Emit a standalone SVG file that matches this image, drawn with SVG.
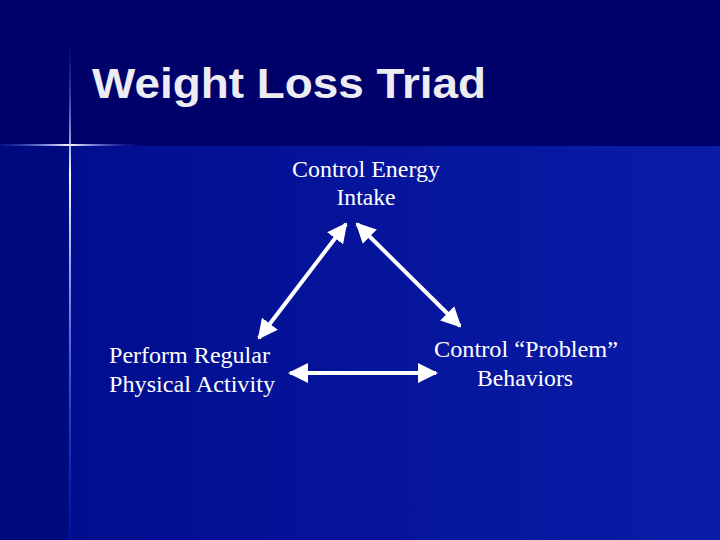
<svg xmlns="http://www.w3.org/2000/svg" width="720" height="540" viewBox="0 0 720 540">
<style>
.title{font-family:"Liberation Sans",Arial,sans-serif;font-weight:bold;font-size:42px;fill:#ececf2}
.lbl{font-family:"Liberation Serif","Times New Roman",serif;font-size:24px;fill:#ffffff}
.arr{stroke:#ffffff;stroke-width:4;fill:none;marker-start:url(#ah);marker-end:url(#ah)}
</style>
<defs>
<linearGradient id="bgLow" x1="0" y1="0" x2="1" y2="0">
<stop offset="0" stop-color="#000c8c"/>
<stop offset="1" stop-color="#0a1ca8"/>
</linearGradient>
<linearGradient id="hline" x1="0" y1="0" x2="1" y2="0">
<stop offset="0" stop-color="#3050ff" stop-opacity="0.2"/>
<stop offset="0.5" stop-color="#ffffff"/>
<stop offset="1" stop-color="#3050ff" stop-opacity="0"/>
</linearGradient>
<linearGradient id="vline" x1="0" y1="0" x2="0" y2="1">
<stop offset="0" stop-color="#3050ff" stop-opacity="0"/>
<stop offset="0.27" stop-color="#ffffff"/>
<stop offset="1" stop-color="#2040ff" stop-opacity="0.1"/>
</linearGradient>
<marker id="ah" viewBox="0 0 10 10" refX="9" refY="5" markerWidth="5" markerHeight="5" orient="auto-start-reverse" markerUnits="strokeWidth">
<path d="M0,0 L10,5 L0,10 Z" fill="#ffffff"/>
</marker>
</defs>
<g id="background">
<rect x="0" y="0" width="720" height="540" fill="url(#bgLow)"/>
<rect x="0" y="0" width="720" height="146" fill="#00006a"/>
<rect x="0" y="146" width="68" height="394" fill="#000a80"/>
<rect x="0" y="144" width="140" height="2" fill="url(#hline)"/>
<rect x="69" y="40" width="2" height="500" fill="url(#vline)"/>
</g>
<g id="title"><text class="title" x="92" y="98" textLength="394" lengthAdjust="spacingAndGlyphs">Weight Loss Triad</text></g>
<g id="node-intake"><text class="lbl" text-anchor="middle" x="366" y="177" textLength="148" lengthAdjust="spacingAndGlyphs">Control Energy</text><text class="lbl" text-anchor="middle" x="366" y="205" textLength="59" lengthAdjust="spacingAndGlyphs">Intake</text></g>
<g id="node-activity"><text class="lbl" x="109" y="363" textLength="161" lengthAdjust="spacingAndGlyphs">Perform Regular</text><text class="lbl" x="109" y="392" textLength="166" lengthAdjust="spacingAndGlyphs">Physical Activity</text></g>
<g id="node-behaviors"><text class="lbl" text-anchor="middle" x="526" y="357" textLength="184" lengthAdjust="spacingAndGlyphs">Control “Problem”</text><text class="lbl" text-anchor="middle" x="525" y="386" textLength="96" lengthAdjust="spacingAndGlyphs">Behaviors</text></g>
<g id="connectors">
<line class="arr" x1="346" y1="224" x2="259" y2="338"/>
<line class="arr" x1="357" y1="224" x2="460" y2="326"/>
<line class="arr" x1="290" y1="373" x2="436" y2="373"/>
</g>
</svg>
